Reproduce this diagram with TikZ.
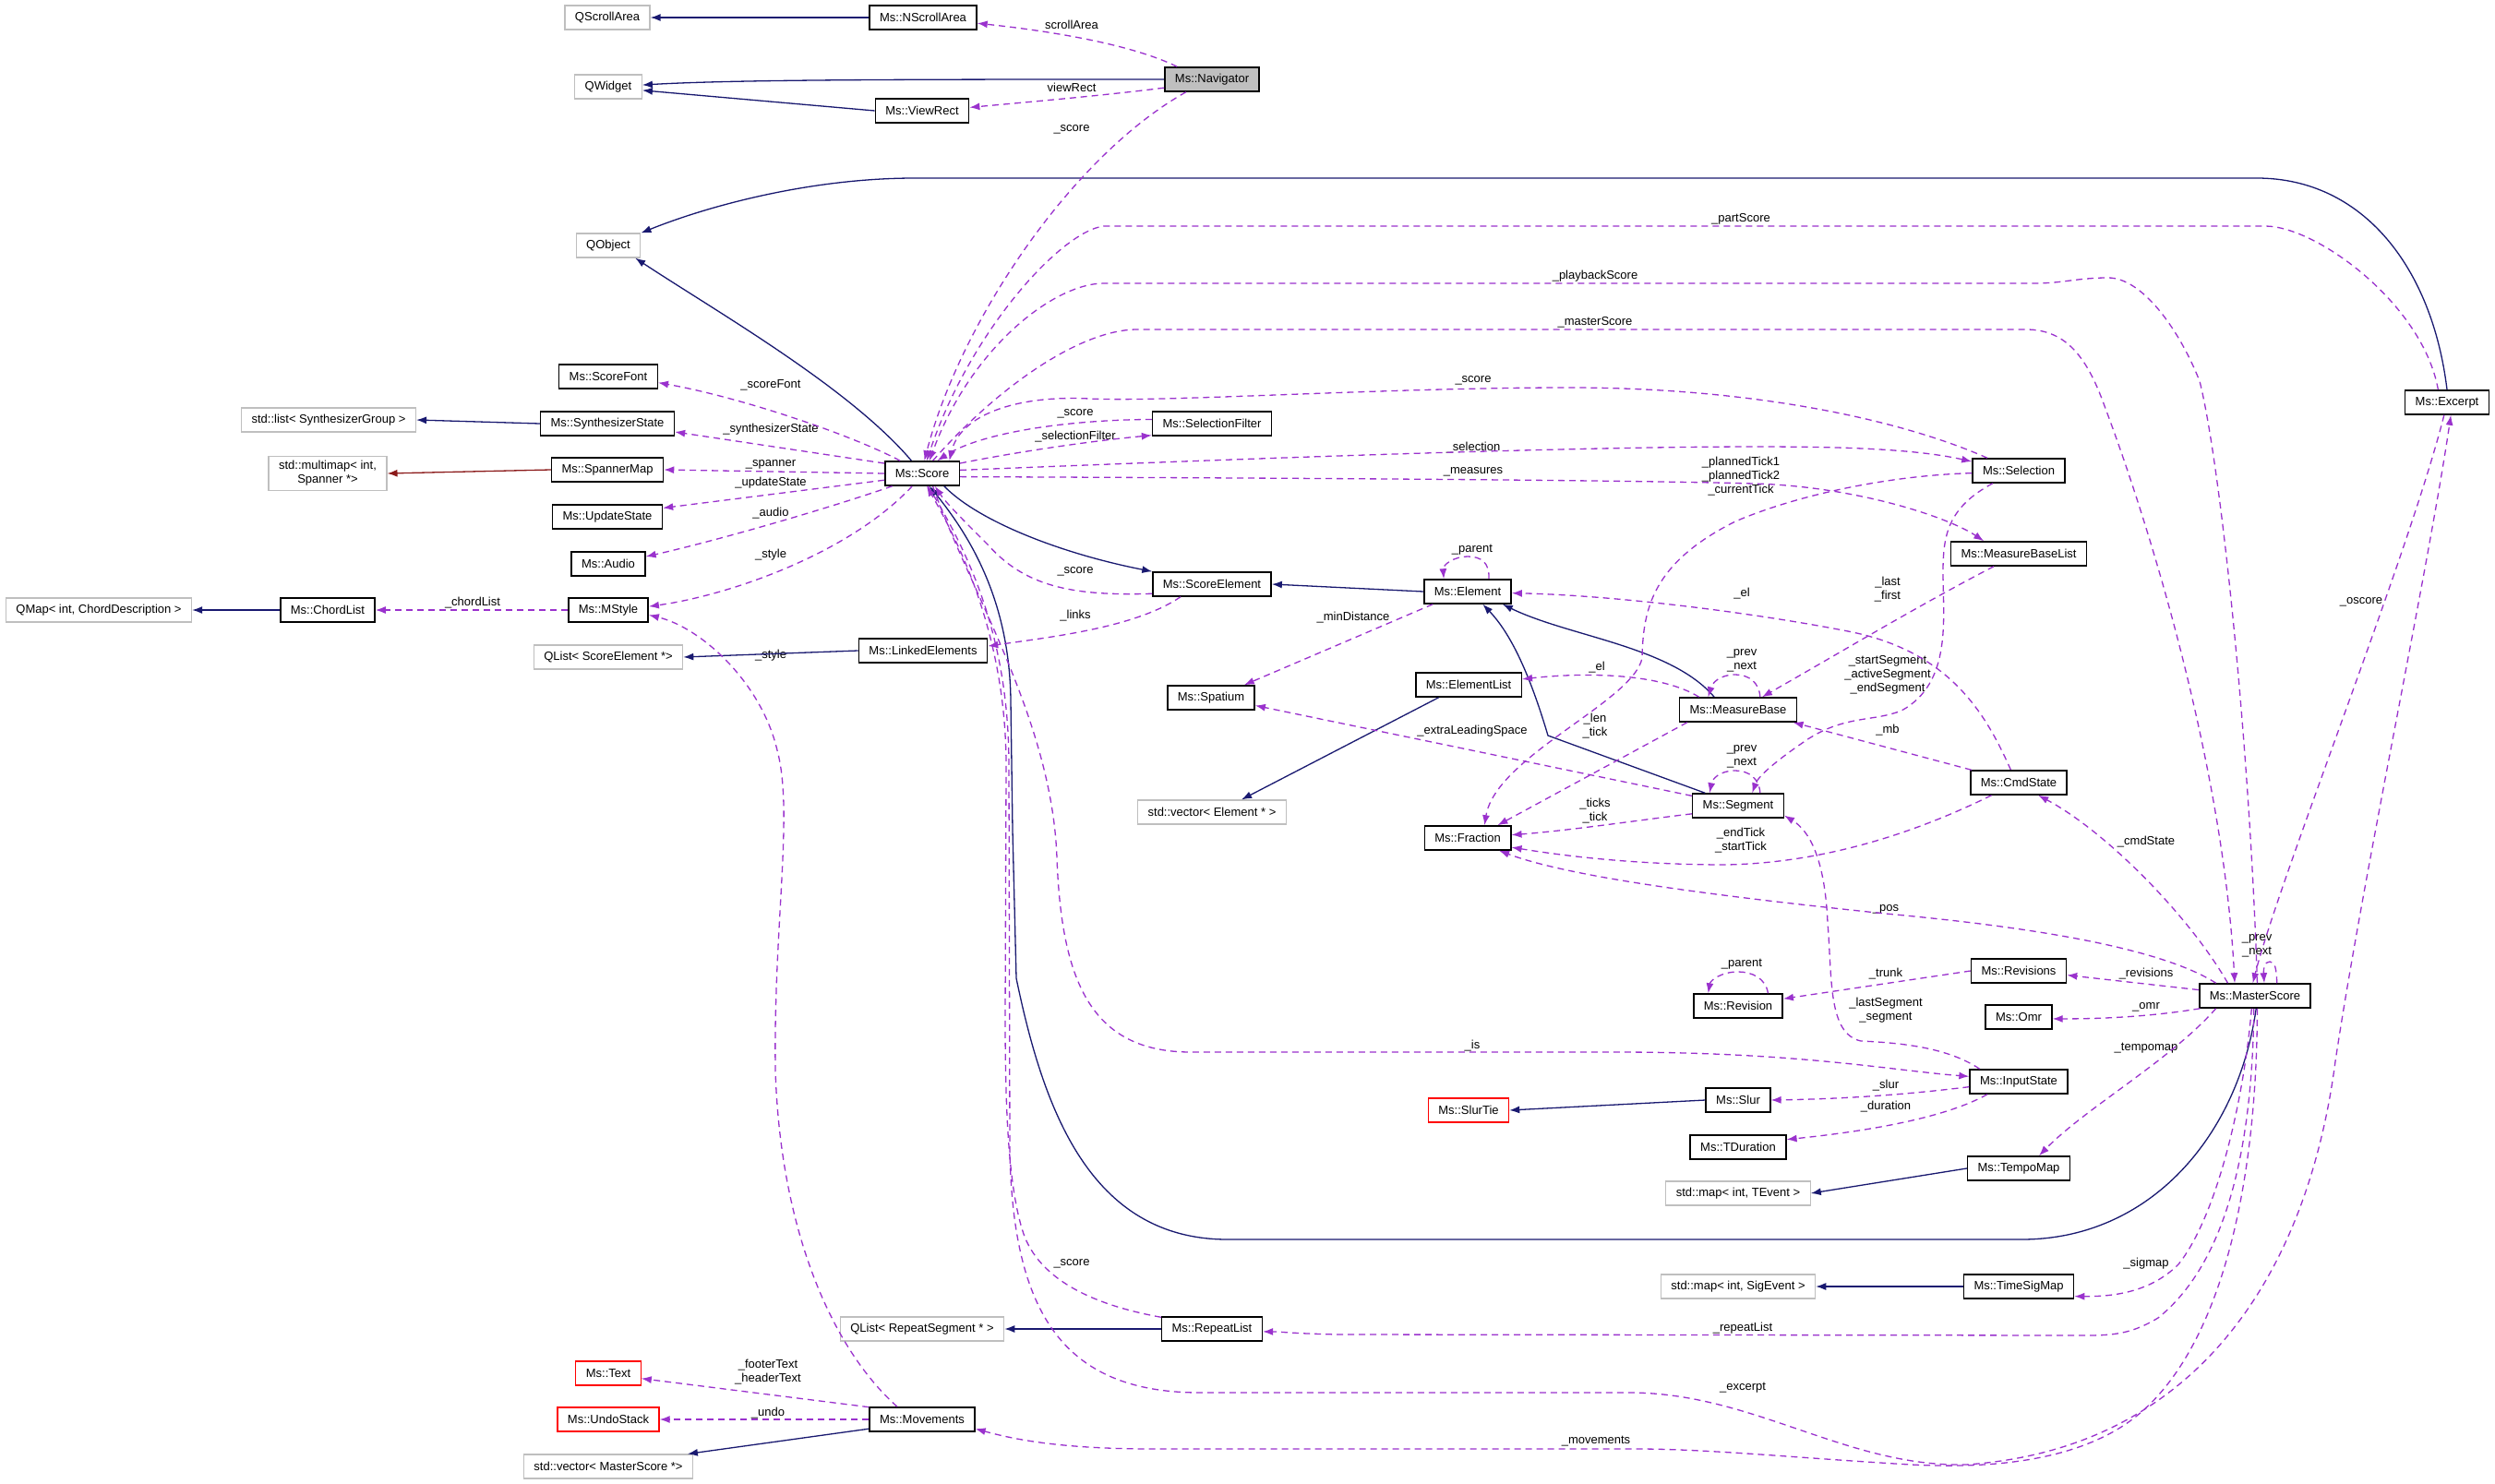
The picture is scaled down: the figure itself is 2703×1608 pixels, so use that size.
\documentclass[tikz,border=0pt]{standalone}
\usepackage{fontspec}
\setmainfont{Liberation Sans}
\usetikzlibrary{arrows.meta}
\definecolor{inkblue}{HTML}{191970}
\definecolor{orchid}{HTML}{9A32CD}
\definecolor{brick}{HTML}{8B1A1A}
\definecolor{lightgr}{HTML}{BFBFBF}
\tikzset{
  cls/.style={draw=black,line width=1.5pt,fill=white,minimum height=26pt,inner xsep=11pt,inner ysep=0pt,font=\fontsize{13}{15}\selectfont},
  extcls/.style={cls,draw=lightgr,line width=1.2pt},
  navcls/.style={cls,fill=lightgr},
  redcls/.style={cls,draw=red,line width=1.2pt},
  lbl/.style={align=center,inner sep=0pt,font=\fontsize{13}{15}\selectfont},
  inh/.style={draw=inkblue,line width=1.3pt,-{Latex[length=11pt,width=8pt]}},
  privinh/.style={inh,draw=brick},
  memb/.style={draw=orchid,line width=1.3pt,dash pattern=on 7pt off 5pt,-{Latex[length=11pt,width=8pt]}},
}
\begin{document}
\begin{tikzpicture}[x=1pt,y=-1pt]
\path[fill=white] (0,0) rectangle (2703,1608);
% ---------------- nodes ----------------
\node[extcls] (qscroll) at (658,19) {QScrollArea};
\node[cls] (nscroll) at (1000,19) {Ms::NScrollArea};
\node[extcls] (qwidget) at (659,94) {QWidget};
\node[navcls] (navigator) at (1313,86) {Ms::Navigator};
\node[cls] (viewrect) at (999,120) {Ms::ViewRect};
\node[extcls] (qobject) at (659,266) {QObject};
\node[cls] (scorefont) at (659,408) {Ms::ScoreFont};
\node[extcls] (synthlist) at (356,455) {std::list< SynthesizerGroup >};
\node[cls] (synthstate) at (658,459) {Ms::SynthesizerState};
\node[extcls,align=center,inner ysep=5pt] (multimap) at (355,513) {std::multimap< int,\\Spanner *>};
\node[cls] (spannermap) at (658,509) {Ms::SpannerMap};
\node[cls] (updatestate) at (658,560) {Ms::UpdateState};
\node[cls] (audio) at (659,611) {Ms::Audio};
\node[cls] (score) at (999,513) {Ms::Score};
\node[extcls] (qmap) at (107,661) {QMap< int, ChordDescription >};
\node[cls] (chordlist) at (355,661) {Ms::ChordList};
\node[cls] (mstyle) at (659,661) {Ms::MStyle};
\node[extcls] (qlistse) at (659,712) {QList< ScoreElement *>};
\node[cls] (linked) at (1000,705) {Ms::LinkedElements};
\node[cls] (selfilter) at (1313,459) {Ms::SelectionFilter};
\node[cls] (scoreelem) at (1313,633) {Ms::ScoreElement};
\node[cls] (element) at (1590,641) {Ms::Element};
\node[cls] (spatium) at (1312,756) {Ms::Spatium};
\node[cls] (elemlist) at (1591,742) {Ms::ElementList};
\node[extcls] (vecelem) at (1313,880) {std::vector< Element * >};
\node[cls] (fraction) at (1590,908) {Ms::Fraction};
\node[cls] (measurebase) at (1883,769) {Ms::MeasureBase};
\node[cls] (segment) at (1883,873) {Ms::Segment};
\node[cls] (selection) at (2187,510) {Ms::Selection};
\node[cls] (mblist) at (2187,600) {Ms::MeasureBaseList};
\node[cls] (cmdstate) at (2187,848) {Ms::CmdState};
\node[cls] (excerpt) at (2651,436) {Ms::Excerpt};
\node[cls] (masterscore) at (2443,1079) {Ms::MasterScore};
\node[cls] (revisions) at (2187,1052) {Ms::Revisions};
\node[cls] (omr) at (2187,1102) {Ms::Omr};
\node[cls] (revision) at (1883,1090) {Ms::Revision};
\node[cls] (inputstate) at (2187,1172) {Ms::InputState};
\node[cls] (slur) at (1883,1192) {Ms::Slur};
\node[redcls] (slurtie) at (1591,1203) {Ms::SlurTie};
\node[cls] (tduration) at (1883,1243) {Ms::TDuration};
\node[cls] (tempomap) at (2187,1266) {Ms::TempoMap};
\node[extcls] (mapte) at (1883,1293) {std::map< int, TEvent >};
\node[extcls] (mapse) at (1883,1394) {std::map< int, SigEvent >};
\node[cls] (timesig) at (2187,1394) {Ms::TimeSigMap};
\node[extcls] (qlistrs) at (999,1440) {QList< RepeatSegment * >};
\node[cls] (repeatlist) at (1313,1440) {Ms::RepeatList};
\node[redcls] (textnode) at (659,1488) {Ms::Text};
\node[redcls] (undostack) at (659,1538) {Ms::UndoStack};
\node[cls] (movements) at (999,1538) {Ms::Movements};
\node[extcls] (vecms) at (659,1589) {std::vector< MasterScore *>};
% ---------------- labels ----------------
\node[lbl] (lscrollarea) at (1161,27) {scrollArea};
\node[lbl] (lviewrect) at (1161,95) {viewRect};
\node[lbl] (lnavscore) at (1161,140) {\_score};
\node[lbl] (lpartscore) at (1886,237) {\_partScore};
\node[lbl] (lplayback) at (1728,299) {\_playbackScore};
\node[lbl] (lmaster) at (1728,349) {\_masterScore};
\node[lbl] (lselscore) at (1596,412) {\_score};
\node[lbl] (lscorefont) at (835,417) {\_scoreFont};
\node[lbl] (lsfscore) at (1165,448) {\_score};
\node[lbl] (lsynth) at (835,465) {\_synthesizerState};
\node[lbl] (lselfilter) at (1165,473) {\_selectionFilter};
\node[lbl] (lselection) at (1596,485) {\_selection};
\node[lbl] (lspanner) at (835,503) {\_spanner};
\node[lbl] (lmeasures) at (1596,511) {\_measures};
\node[lbl] (lplanned) at (1886,516) {\_plannedTick1\\\_plannedTick2\\\_currentTick};
\node[lbl] (lupdate) at (835,523) {\_updateState};
\node[lbl] (laudio) at (835,556) {\_audio};
\node[lbl] (lelparent) at (1595,596) {\_parent};
\node[lbl] (lstyle) at (835,601) {\_style};
\node[lbl] (lsescore) at (1165,619) {\_score};
\node[lbl] (llast) at (2045,639) {\_last\\\_first};
\node[lbl] (lel) at (1887,643) {\_el};
\node[lbl] (lchord) at (512,653) {\_chordList};
\node[lbl] (llinks) at (1165,667) {\_links};
\node[lbl] (lmindist) at (1466,669) {\_minDistance};
\node[lbl] (lmbprev) at (1887,716) {\_prev\\\_next};
\node[lbl] (lstyle2) at (835,710) {\_style};
\node[lbl] (lstartseg) at (2045,731) {\_startSegment\\\_activeSegment\\\_endSegment};
\node[lbl] (lel2) at (1730,723) {\_el};
\node[lbl] (llen) at (1728,787) {\_len\\\_tick};
\node[lbl] (lextra) at (1595,792) {\_extraLeadingSpace};
\node[lbl] (lmb) at (2045,791) {\_mb};
\node[lbl] (lsegprev) at (1887,820) {\_prev\\\_next};
\node[lbl] (lticks) at (1728,879) {\_ticks\\\_tick};
\node[lbl] (lendtick) at (1886,911) {\_endTick\\\_startTick};
\node[lbl] (lcmd) at (2325,912) {\_cmdState};
\node[lbl] (lpos) at (2043,985) {\_pos};
\node[lbl] (lmsprev) at (2445,1025) {\_prev\\\_next};
\node[lbl] (lrevparent) at (1887,1045) {\_parent};
\node[lbl] (ltrunk) at (2043,1055) {\_trunk};
\node[lbl] (lrevisions) at (2325,1055) {\_revisions};
\node[lbl] (llastseg) at (2043,1095) {\_lastSegment\\\_segment};
\node[lbl] (lomr) at (2325,1091) {\_omr};
\node[lbl] (lis) at (1595,1133) {\_is};
\node[lbl] (ltempo) at (2325,1136) {\_tempomap};
\node[lbl] (lslur) at (2043,1176) {\_slur};
\node[lbl] (lduration) at (2043,1199) {\_duration};
\node[lbl] (loscore) at (2558,652) {\_oscore};
\node[lbl] (lsigmap) at (2325,1369) {\_sigmap};
\node[lbl] (lrlscore) at (1161,1369) {\_score};
\node[lbl] (lrepeat) at (1888,1439) {\_repeatList};
\node[lbl] (lfooter) at (832,1487) {\_footerText\\\_headerText};
\node[lbl] (lexcerpt) at (1888,1504) {\_excerpt};
\node[lbl] (lundo) at (832,1531) {\_undo};
\node[lbl] (lmovements) at (1729,1562) {\_movements};
% ---------------- inheritance ----------------
\draw[inh] (nscroll.west) -- (qscroll.east);
\draw[inh] (navigator.west) .. controls (1000,86) and (800,86) .. (qwidget.3);
\draw[inh] (viewrect.west) -- (qwidget.-6);
\draw[inh] (excerpt.north) .. controls (2635,290) and (2560,193) .. (2445,193) -- (991,193) .. controls (880,193) and (770,222) .. (qobject.north east);
\draw[inh] (score.130) .. controls (920,420) and (780,340) .. (qobject.-25);
\draw[inh] (score.330) .. controls (1060,565) and (1150,600) .. (scoreelem.168);
\draw[inh] (element.west) -- (scoreelem.east);
\draw[inh] (measurebase.152) .. controls (1810,700) and (1700,690) .. (element.-20);
\draw[inh] (segment.159) -- (1677,797) .. controls (1660,740) and (1640,690) .. (element.-40);
\draw[inh] (elemlist.203) -- (vecelem.23);
\draw[inh] (linked.west) -- (qlistse.east);
\draw[inh] (chordlist.west) -- (qmap.east);
\draw[inh] (synthstate.west) -- (synthlist.east);
\draw[privinh] (spannermap.west) -- (multimap.east);
\draw[inh] (slur.west) -- (slurtie.east);
\draw[inh] (tempomap.west) -- (mapte.east);
\draw[inh] (timesig.west) -- (mapse.east);
\draw[inh] (repeatlist.west) -- (qlistrs.east);
\draw[inh] (movements.190) -- (vecms.9);
\draw[inh] (masterscore.275) .. controls (2425,1230) and (2330,1343) .. (2190,1343) -- (1330,1343) .. controls (1180,1343) and (1130,1200) .. (1101,1060) -- (1097,900) -- (1095,760) .. controls (1094,650) and (1050,580) .. (score.300);
% ---------------- members ----------------
\draw[memb] (navigator.160) .. controls (1230,50) and (1150,35) .. (nscroll.-6);
\draw[memb] (navigator.190) .. controls (1200,103) and (1120,110) .. (viewrect.4);
\draw[memb] (navigator.206) .. controls (1160,170) and (1040,350) .. (score.80);
\draw[memb] (excerpt.125) .. controls (2625,330) and (2510,245) .. (2454,245) -- (1196,245) .. controls (1150,250) and (1050,360) .. (score.70);
\draw[memb] (masterscore.80) .. controls (2437,800) and (2405,500) .. (2383,413) .. controls (2360,355) and (2320,301) .. (2284,301) .. controls (2250,301) and (2235,307) .. (2204,307) -- (1196,307) .. controls (1140,307) and (1050,380) .. (score.60);
\draw[memb] (score.50) .. controls (1080,420) and (1170,357) .. (1232,357) -- (2195,357) .. controls (2240,357) and (2262,390) .. (2280,440) .. controls (2340,600) and (2410,850) .. (masterscore.148);
\draw[memb] (selfilter.176) .. controls (1150,455) and (1060,470) .. (score.40);
\draw[memb] (score.15) .. controls (1100,490) and (1180,478) .. (selfilter.191);
\draw[memb] (selection.158) .. controls (2060,455) and (1900,420) .. (1700,420) .. controls (1500,420) and (1260,436) .. (1180,432) .. controls (1100,428) and (1040,450) .. (score.25);
\draw[memb] (score.5) .. controls (1400,495) and (1800,480) .. (1990,485) .. controls (2060,487) and (2100,492) .. (selection.169);
\draw[memb] (score.-5) .. controls (1400,518) and (1750,520) .. (1900,524) .. controls (2010,527) and (2110,560) .. (mblist.160);
\draw[memb] (selection.183) .. controls (2050,515) and (1950,535) .. (1880,565) .. controls (1790,610) and (1780,660) .. (1779,713) .. controls (1770,760) and (1620,820) .. (fraction.37);
\draw[memb] (mblist.207) .. controls (2080,655) and (1980,715) .. (measurebase.28);
\draw[memb] (cmdstate.122) .. controls (2150,770) and (2110,705) .. (2002,684) .. controls (1900,664) and (1750,645) .. (element.-2);
\draw[memb] (measurebase.162) .. controls (1800,730) and (1720,728) .. (elemlist.6);
\draw[memb] (measurebase.30) .. controls (1906,740) and (1895,731) .. (1880,731) .. controls (1863,731) and (1855,740) .. (measurebase.157);
\draw[memb] (selection.206) .. controls (2110,550) and (2105,580) .. (2105,620) .. controls (2105,670) and (2115,740) .. (2060,770) .. controls (2030,782) and (2000,775) .. (1960,800) .. controls (1930,820) and (1905,840) .. (segment.42);
\draw[memb] (cmdstate.165) -- (measurebase.-13);
\draw[memb] (element.200) -- (spatium.21);
\draw[memb] (segment.168) -- (spatium.-10);
\draw[memb] (measurebase.194) -- (fraction.23);
\draw[memb] (segment.30) .. controls (1906,844) and (1895,835) .. (1880,835) .. controls (1863,835) and (1855,844) .. (segment.156);
\draw[memb] (segment.190) .. controls (1780,888) and (1700,900) .. (fraction.4);
\draw[memb] (cmdstate.205) .. controls (2080,900) and (1980,935) .. (1870,937) .. controls (1760,937) and (1680,925) .. (fraction.-12);
\draw[memb] (masterscore.162) .. controls (2330,1020) and (2150,1000) .. (2043,990) .. controls (1850,970) and (1700,950) .. (fraction.-22);
\draw[memb] (masterscore.174) -- (revisions.-5);
\draw[memb] (revisions.west) -- (revision.9);
\draw[memb] (revision.23) .. controls (1913,1060) and (1898,1053) .. (1883,1053) .. controls (1865,1053) and (1853,1062) .. (revision.157);
\draw[memb] (masterscore.193) .. controls (2340,1100) and (2290,1104) .. (omr.-3);
\draw[memb] (masterscore.155) .. controls (2370,990) and (2280,900) .. (cmdstate.-33);
\draw[memb] (inputstate.162) .. controls (2110,1135) and (2060,1130) .. (2016,1128) .. controls (1980,1120) and (1985,1060) .. (1980,1000) .. controls (1977,930) and (1960,900) .. (segment.-12);
\draw[memb] (score.310) .. controls (1050,640) and (1140,780) .. (1145,930) .. controls (1150,1060) and (1180,1140) .. (1290,1140) -- (1750,1140) .. controls (1950,1140) and (2050,1160) .. (inputstate.174);
\draw[memb] (inputstate.186) .. controls (2050,1188) and (1980,1191) .. (slur.east);
\draw[memb] (inputstate.202) .. controls (2110,1210) and (2030,1225) .. (tduration.9);
\draw[memb] (masterscore.198) .. controls (2350,1150) and (2260,1200) .. (tempomap.32);
\draw[memb] (masterscore.255) .. controls (2430,1200) and (2400,1320) .. (2360,1370) .. controls (2330,1400) and (2290,1405) .. (timesig.-10);
\draw[memb] (masterscore.265) .. controls (2440,1250) and (2410,1370) .. (2338,1428) .. controls (2310,1445) and (2290,1447) .. (2260,1447) -- (1450,1446) .. controls (1400,1445) and (1390,1443) .. (repeatlist.-3);
\draw[memb] (repeatlist.167) .. controls (1190,1415) and (1130,1390) .. (1110,1340) .. controls (1092,1290) and (1089,1200) .. (1089,1100) -- (1090,830) .. controls (1090,690) and (1040,590) .. (score.290);
\draw[memb] (score.295) .. controls (1050,600) and (1093,690) .. (1093,830) -- (1094,1250) .. controls (1098,1420) and (1150,1509) .. (1300,1509) -- (1765,1509) .. controls (1900,1509) and (2000,1590) .. (2130,1587) .. controls (2380,1570) and (2500,1380) .. (2530,1150) .. controls (2560,950) and (2630,620) .. (excerpt.-73);
\draw[memb] (excerpt.257) .. controls (2610,600) and (2470,950) .. (masterscore.100);
\draw[memb] (masterscore.30) .. controls (2466,1050) and (2465,1042) .. (2459,1042) .. controls (2453,1042) and (2452,1050) .. (masterscore.54);
\draw[memb] (masterscore.280) .. controls (2445,1300) and (2400,1480) .. (2300,1545) .. controls (2230,1590) and (2130,1590) .. (2070,1587) .. controls (1950,1580) and (1850,1570) .. (1774,1570) -- (1250,1570) .. controls (1150,1570) and (1100,1560) .. (movements.-10);
\draw[memb] (movements.153) .. controls (900,1460) and (845,1330) .. (840,1159) .. controls (838,1000) and (860,880) .. (842,813) .. controls (825,740) and (760,680) .. (mstyle.-7);
\draw[memb] (movements.167) -- (textnode.-9);
\draw[memb] (movements.west) -- (undostack.east);
\draw[memb] (score.150) .. controls (920,470) and (800,430) .. (scorefont.-7);
\draw[memb] (score.165) -- (synthstate.-7);
\draw[memb] (score.west) -- (spannermap.east);
\draw[memb] (score.190) -- (updatestate.9);
\draw[memb] (score.203) .. controls (900,550) and (780,585) .. (audio.11);
\draw[memb] (score.232) .. controls (920,600) and (790,645) .. (mstyle.5);
\draw[memb] (mstyle.west) -- (chordlist.east);
\draw[memb] (scoreelem.189) .. controls (1160,646) and (1110,635) .. (1070,590) .. controls (1040,560) and (1025,545) .. (score.315);
\draw[memb] (scoreelem.202) .. controls (1230,680) and (1140,690) .. (linked.4);
\draw[memb] (element.31) .. controls (1614,610) and (1605,603) .. (1590,603) .. controls (1575,603) and (1563,612) .. (element.152);
\end{tikzpicture}
\end{document}
